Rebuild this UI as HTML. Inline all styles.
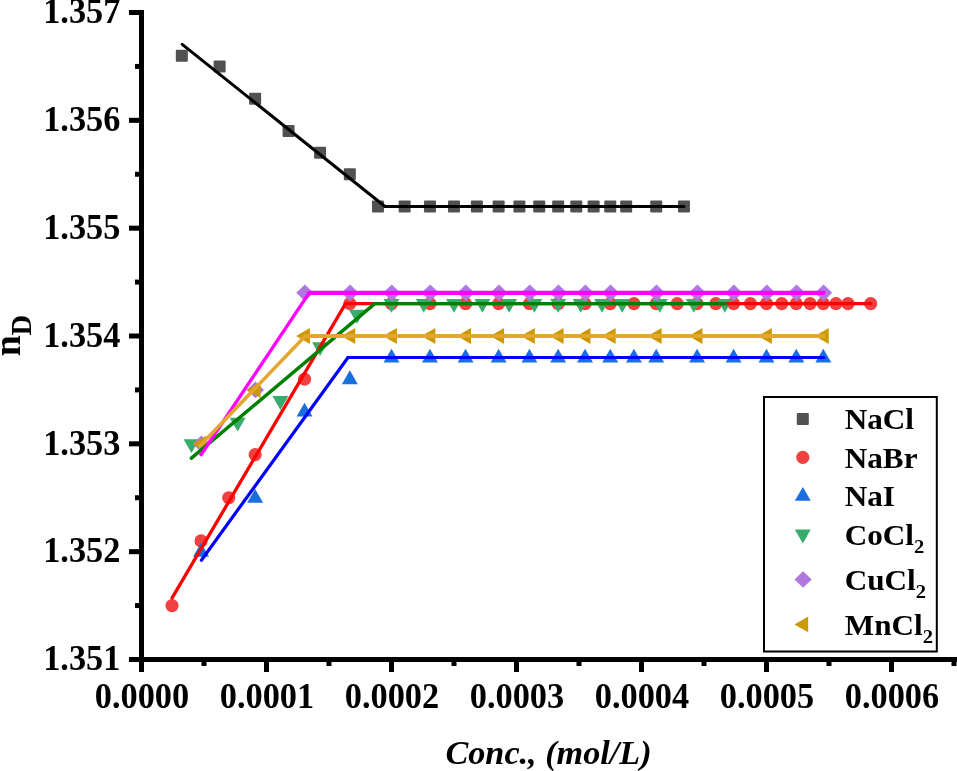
<!DOCTYPE html>
<html lang="en"><head><meta charset="utf-8"><title>nD vs Conc.</title>
<style>html,body{margin:0;padding:0;background:#fff;}body{width:957px;height:771px;overflow:hidden;}svg{display:block;}text{font-family:"Liberation Serif","Times New Roman",Times,serif;font-weight:bold;fill:#000;}</style>
</head><body>
<svg width="957" height="771" viewBox="0 0 957 771">
<rect width="957" height="771" fill="#fff"/>
<g id="markers">
<rect x="175.82" y="49.63" width="12" height="12" rx="1" fill="#515151"/>
<rect x="213.62" y="60.42" width="12" height="12" rx="1" fill="#515151"/>
<rect x="249.14" y="92.77" width="12" height="12" rx="1" fill="#515151"/>
<rect x="282.56" y="125.12" width="12" height="12" rx="1" fill="#515151"/>
<rect x="314.07" y="146.68" width="12" height="12" rx="1" fill="#515151"/>
<rect x="343.83" y="168.25" width="12" height="12" rx="1" fill="#515151"/>
<rect x="371.99" y="200.6" width="12" height="12" rx="1" fill="#515151"/>
<rect x="398.66" y="200.6" width="12" height="12" rx="1" fill="#515151"/>
<rect x="423.96" y="200.6" width="12" height="12" rx="1" fill="#515151"/>
<rect x="448" y="200.6" width="12" height="12" rx="1" fill="#515151"/>
<rect x="470.87" y="200.6" width="12" height="12" rx="1" fill="#515151"/>
<rect x="492.64" y="200.6" width="12" height="12" rx="1" fill="#515151"/>
<rect x="513.41" y="200.6" width="12" height="12" rx="1" fill="#515151"/>
<rect x="533.23" y="200.6" width="12" height="12" rx="1" fill="#515151"/>
<rect x="552.17" y="200.6" width="12" height="12" rx="1" fill="#515151"/>
<rect x="570.28" y="200.6" width="12" height="12" rx="1" fill="#515151"/>
<rect x="587.63" y="200.6" width="12" height="12" rx="1" fill="#515151"/>
<rect x="604.25" y="200.6" width="12" height="12" rx="1" fill="#515151"/>
<rect x="620.19" y="200.6" width="12" height="12" rx="1" fill="#515151"/>
<rect x="650.21" y="200.6" width="12" height="12" rx="1" fill="#515151"/>
<rect x="677.95" y="200.6" width="12" height="12" rx="1" fill="#515151"/>
<circle cx="171.99" cy="605.58" r="6.6" fill="#F14040"/>
<circle cx="201.02" cy="540.88" r="6.6" fill="#F14040"/>
<circle cx="228.71" cy="497.75" r="6.6" fill="#F14040"/>
<circle cx="255.14" cy="454.62" r="6.6" fill="#F14040"/>
<circle cx="304.54" cy="379.13" r="6.6" fill="#F14040"/>
<circle cx="349.83" cy="303.65" r="6.6" fill="#F14040"/>
<circle cx="391.5" cy="303.65" r="6.6" fill="#F14040"/>
<circle cx="429.96" cy="303.65" r="6.6" fill="#F14040"/>
<circle cx="465.57" cy="303.65" r="6.6" fill="#F14040"/>
<circle cx="498.64" cy="303.65" r="6.6" fill="#F14040"/>
<circle cx="529.43" cy="303.65" r="6.6" fill="#F14040"/>
<circle cx="558.17" cy="303.65" r="6.6" fill="#F14040"/>
<circle cx="585.05" cy="303.65" r="6.6" fill="#F14040"/>
<circle cx="610.25" cy="303.65" r="6.6" fill="#F14040"/>
<circle cx="633.92" cy="303.65" r="6.6" fill="#F14040"/>
<circle cx="656.21" cy="303.65" r="6.6" fill="#F14040"/>
<circle cx="677.21" cy="303.65" r="6.6" fill="#F14040"/>
<circle cx="697.06" cy="303.65" r="6.6" fill="#F14040"/>
<circle cx="715.82" cy="303.65" r="6.6" fill="#F14040"/>
<circle cx="733.61" cy="303.65" r="6.6" fill="#F14040"/>
<circle cx="750.47" cy="303.65" r="6.6" fill="#F14040"/>
<circle cx="766.5" cy="303.65" r="6.6" fill="#F14040"/>
<circle cx="781.74" cy="303.65" r="6.6" fill="#F14040"/>
<circle cx="796.26" cy="303.65" r="6.6" fill="#F14040"/>
<circle cx="810.1" cy="303.65" r="6.6" fill="#F14040"/>
<circle cx="823.32" cy="303.65" r="6.6" fill="#F14040"/>
<circle cx="835.94" cy="303.65" r="6.6" fill="#F14040"/>
<circle cx="848.02" cy="303.65" r="6.6" fill="#F14040"/>
<circle cx="870.67" cy="303.65" r="6.6" fill="#F14040"/>
<polygon points="201.02,542.87 208.99,556.67 193.06,556.67" fill="#1A6FDF"/>
<polygon points="255.14,488.95 263.1,502.75 247.17,502.75" fill="#1A6FDF"/>
<polygon points="304.54,402.68 312.51,416.48 296.58,416.48" fill="#1A6FDF"/>
<polygon points="349.83,370.33 357.8,384.13 341.87,384.13" fill="#1A6FDF"/>
<polygon points="391.5,348.77 399.47,362.57 383.53,362.57" fill="#1A6FDF"/>
<polygon points="429.96,348.77 437.93,362.57 421.99,362.57" fill="#1A6FDF"/>
<polygon points="465.57,348.77 473.54,362.57 457.61,362.57" fill="#1A6FDF"/>
<polygon points="498.64,348.77 506.61,362.57 490.68,362.57" fill="#1A6FDF"/>
<polygon points="529.43,348.77 537.4,362.57 521.46,362.57" fill="#1A6FDF"/>
<polygon points="558.17,348.77 566.13,362.57 550.2,362.57" fill="#1A6FDF"/>
<polygon points="585.05,348.77 593.02,362.57 577.08,362.57" fill="#1A6FDF"/>
<polygon points="610.25,348.77 618.22,362.57 602.28,362.57" fill="#1A6FDF"/>
<polygon points="633.92,348.77 641.89,362.57 625.96,362.57" fill="#1A6FDF"/>
<polygon points="656.21,348.77 664.17,362.57 648.24,362.57" fill="#1A6FDF"/>
<polygon points="697.06,348.77 705.02,362.57 689.09,362.57" fill="#1A6FDF"/>
<polygon points="733.61,348.77 741.57,362.57 725.64,362.57" fill="#1A6FDF"/>
<polygon points="766.5,348.77 774.47,362.57 758.53,362.57" fill="#1A6FDF"/>
<polygon points="796.26,348.77 804.23,362.57 788.29,362.57" fill="#1A6FDF"/>
<polygon points="823.32,348.77 831.29,362.57 815.35,362.57" fill="#1A6FDF"/>
<polygon points="191.5,453.03 199.47,439.23 183.53,439.23" fill="#37AD6B"/>
<polygon points="237.65,431.47 245.62,417.67 229.69,417.67" fill="#37AD6B"/>
<polygon points="280.39,409.9 288.36,396.1 272.42,396.1" fill="#37AD6B"/>
<polygon points="320.07,355.98 328.04,342.18 312.1,342.18" fill="#37AD6B"/>
<polygon points="357.02,323.63 364.98,309.83 349.05,309.83" fill="#37AD6B"/>
<polygon points="391.5,312.85 399.47,299.05 383.53,299.05" fill="#37AD6B"/>
<polygon points="423.76,312.85 431.73,299.05 415.79,299.05" fill="#37AD6B"/>
<polygon points="454,312.85 461.97,299.05 446.03,299.05" fill="#37AD6B"/>
<polygon points="482.41,312.85 490.38,299.05 474.44,299.05" fill="#37AD6B"/>
<polygon points="509.15,312.85 517.11,299.05 501.18,299.05" fill="#37AD6B"/>
<polygon points="534.36,312.85 542.32,299.05 526.39,299.05" fill="#37AD6B"/>
<polygon points="558.17,312.85 566.13,299.05 550.2,299.05" fill="#37AD6B"/>
<polygon points="580.69,312.85 588.66,299.05 572.72,299.05" fill="#37AD6B"/>
<polygon points="602.03,312.85 609.99,299.05 594.06,299.05" fill="#37AD6B"/>
<polygon points="622.27,312.85 630.24,299.05 614.3,299.05" fill="#37AD6B"/>
<polygon points="659.79,312.85 667.76,299.05 651.83,299.05" fill="#37AD6B"/>
<polygon points="693.83,312.85 701.79,299.05 685.86,299.05" fill="#37AD6B"/>
<polygon points="724.83,312.85 732.8,299.05 716.87,299.05" fill="#37AD6B"/>
<polygon points="201.32,435.53 209.92,443.83 201.32,452.13 192.72,443.83" fill="#B177DE"/>
<polygon points="255.44,381.62 264.04,389.92 255.44,398.22 246.84,389.92" fill="#B177DE"/>
<polygon points="304.84,284.57 313.44,292.87 304.84,301.17 296.24,292.87" fill="#B177DE"/>
<polygon points="350.13,284.57 358.73,292.87 350.13,301.17 341.53,292.87" fill="#B177DE"/>
<polygon points="391.8,284.57 400.4,292.87 391.8,301.17 383.2,292.87" fill="#B177DE"/>
<polygon points="430.26,284.57 438.86,292.87 430.26,301.17 421.66,292.87" fill="#B177DE"/>
<polygon points="465.87,284.57 474.47,292.87 465.87,301.17 457.27,292.87" fill="#B177DE"/>
<polygon points="498.94,284.57 507.54,292.87 498.94,301.17 490.34,292.87" fill="#B177DE"/>
<polygon points="529.73,284.57 538.33,292.87 529.73,301.17 521.13,292.87" fill="#B177DE"/>
<polygon points="558.47,284.57 567.07,292.87 558.47,301.17 549.87,292.87" fill="#B177DE"/>
<polygon points="585.35,284.57 593.95,292.87 585.35,301.17 576.75,292.87" fill="#B177DE"/>
<polygon points="610.55,284.57 619.15,292.87 610.55,301.17 601.95,292.87" fill="#B177DE"/>
<polygon points="656.51,284.57 665.11,292.87 656.51,301.17 647.91,292.87" fill="#B177DE"/>
<polygon points="697.36,284.57 705.96,292.87 697.36,301.17 688.76,292.87" fill="#B177DE"/>
<polygon points="733.91,284.57 742.51,292.87 733.91,301.17 725.31,292.87" fill="#B177DE"/>
<polygon points="766.8,284.57 775.4,292.87 766.8,301.17 758.2,292.87" fill="#B177DE"/>
<polygon points="796.56,284.57 805.16,292.87 796.56,301.17 787.96,292.87" fill="#B177DE"/>
<polygon points="823.62,284.57 832.22,292.87 823.62,301.17 815.02,292.87" fill="#B177DE"/>
<polygon points="192.62,443.83 206.42,435.87 206.42,451.8" fill="#CC9900"/>
<polygon points="246.74,389.92 260.54,381.95 260.54,397.88" fill="#CC9900"/>
<polygon points="296.14,336 309.94,328.03 309.94,343.97" fill="#CC9900"/>
<polygon points="341.43,336 355.23,328.03 355.23,343.97" fill="#CC9900"/>
<polygon points="383.1,336 396.9,328.03 396.9,343.97" fill="#CC9900"/>
<polygon points="421.56,336 435.36,328.03 435.36,343.97" fill="#CC9900"/>
<polygon points="457.17,336 470.97,328.03 470.97,343.97" fill="#CC9900"/>
<polygon points="490.24,336 504.04,328.03 504.04,343.97" fill="#CC9900"/>
<polygon points="521.03,336 534.83,328.03 534.83,343.97" fill="#CC9900"/>
<polygon points="549.77,336 563.57,328.03 563.57,343.97" fill="#CC9900"/>
<polygon points="576.65,336 590.45,328.03 590.45,343.97" fill="#CC9900"/>
<polygon points="601.85,336 615.65,328.03 615.65,343.97" fill="#CC9900"/>
<polygon points="647.81,336 661.61,328.03 661.61,343.97" fill="#CC9900"/>
<polygon points="688.66,336 702.46,328.03 702.46,343.97" fill="#CC9900"/>
<polygon points="758.1,336 771.9,328.03 771.9,343.97" fill="#CC9900"/>
<polygon points="814.92,336 828.72,328.03 828.72,343.97" fill="#CC9900"/>
</g>
<g id="fits">
<line x1="182.2" y1="44.3" x2="385" y2="206.5" stroke="#000" stroke-width="3" stroke-linecap="round"/>
<line x1="385" y1="206.5" x2="684" y2="206.5" stroke="#000" stroke-width="3" stroke-linecap="round"/>
<line x1="172.1" y1="597.8" x2="345.6" y2="303.6" stroke="#FF0000" stroke-width="3.3" stroke-linecap="round"/>
<line x1="345.6" y1="303.6" x2="871" y2="303.6" stroke="#FF0000" stroke-width="3.3" stroke-linecap="round"/>
<line x1="201.4" y1="560.2" x2="348" y2="357.5" stroke="#0000FF" stroke-width="3.2" stroke-linecap="round"/>
<line x1="348" y1="357.5" x2="824" y2="357.5" stroke="#0000FF" stroke-width="3.2" stroke-linecap="round"/>
<line x1="191.4" y1="458.2" x2="374.8" y2="303.7" stroke="#008000" stroke-width="3.5" stroke-linecap="round"/>
<line x1="374.8" y1="303.7" x2="725.5" y2="303.7" stroke="#008000" stroke-width="3.2" stroke-linecap="round"/>
<line x1="201" y1="454.7" x2="309.2" y2="292.9" stroke="#FF00FF" stroke-width="3.4" stroke-linecap="round"/>
<line x1="309.2" y1="292.9" x2="823.5" y2="292.9" stroke="#FF00FF" stroke-width="4.3" stroke-linecap="round"/>
<line x1="199.8" y1="446" x2="305.3" y2="336" stroke="#E3A72F" stroke-width="3.6" stroke-linecap="round"/>
<line x1="305.3" y1="336" x2="823.5" y2="336" stroke="#E3A72F" stroke-width="3.9" stroke-linecap="round"/>
</g>
<g id="axes" fill="#000">
<rect x="139" y="10" width="5" height="662"/>
<rect x="129" y="657" width="828" height="5"/>
<rect x="129" y="10" width="12" height="5"/>
<rect x="129" y="117.83" width="12" height="5"/>
<rect x="129" y="225.67" width="12" height="5"/>
<rect x="129" y="333.5" width="12" height="5"/>
<rect x="129" y="441.33" width="12" height="5"/>
<rect x="129" y="549.17" width="12" height="5"/>
<rect x="129" y="657" width="12" height="5"/>
<rect x="135" y="63.92" width="6" height="5"/>
<rect x="135" y="171.75" width="6" height="5"/>
<rect x="135" y="279.58" width="6" height="5"/>
<rect x="135" y="387.42" width="6" height="5"/>
<rect x="135" y="495.25" width="6" height="5"/>
<rect x="135" y="603.08" width="6" height="5"/>
<rect x="139" y="660" width="5" height="12"/>
<rect x="264" y="660" width="5" height="12"/>
<rect x="389" y="660" width="5" height="12"/>
<rect x="514" y="660" width="5" height="12"/>
<rect x="639" y="660" width="5" height="12"/>
<rect x="764" y="660" width="5" height="12"/>
<rect x="889" y="660" width="5" height="12"/>
<rect x="201.5" y="660" width="5" height="6"/>
<rect x="326.5" y="660" width="5" height="6"/>
<rect x="451.5" y="660" width="5" height="6"/>
<rect x="576.5" y="660" width="5" height="6"/>
<rect x="701.5" y="660" width="5" height="6"/>
<rect x="826.5" y="660" width="5" height="6"/>
<rect x="951.5" y="660" width="5" height="6"/>
</g>
<g id="ylabels" font-size="34.3" text-anchor="end">
<text transform="translate(120.3,23.3) scale(1,1.03)">1.357</text>
<text transform="translate(120.3,131.13) scale(1,1.03)">1.356</text>
<text transform="translate(120.3,238.97) scale(1,1.03)">1.355</text>
<text transform="translate(120.3,346.8) scale(1,1.03)">1.354</text>
<text transform="translate(120.3,454.63) scale(1,1.03)">1.353</text>
<text transform="translate(120.3,562.47) scale(1,1.03)">1.352</text>
<text transform="translate(120.3,670.3) scale(1,1.03)">1.351</text>
</g>
<g id="xlabels" font-size="34.3" text-anchor="middle">
<text transform="translate(142,707.5) scale(1,1.03)">0.0000</text>
<text transform="translate(267,707.5) scale(1,1.03)">0.0001</text>
<text transform="translate(392,707.5) scale(1,1.03)">0.0002</text>
<text transform="translate(517,707.5) scale(1,1.03)">0.0003</text>
<text transform="translate(642,707.5) scale(1,1.03)">0.0004</text>
<text transform="translate(767,707.5) scale(1,1.03)">0.0005</text>
<text transform="translate(892,707.5) scale(1,1.03)">0.0006</text>
</g>
<text transform="translate(548.5,764.4)" font-size="34.2" font-style="italic" text-anchor="middle">Conc., (mol/L)</text>
<text transform="translate(20,356.2) rotate(-90) scale(0.97,1)" font-size="39">n</text>
<text transform="translate(30.7,335.5) rotate(-90)" font-size="28.5">D</text>
<rect x="764" y="397" width="172.8" height="254.5" fill="#fff" stroke="#000" stroke-width="2"/>
<rect x="796.8" y="412.9" width="12" height="12" rx="1" fill="#515151"/>
<text transform="translate(844.7,429.4) scale(1,0.955)" font-size="31.2">NaCl</text>
<circle cx="802.8" cy="457.3" r="6.6" fill="#F14040"/>
<text transform="translate(844.7,467.8) scale(1,0.955)" font-size="31.2">NaBr</text>
<polygon points="802.8,486.9 810.77,500.7 794.83,500.7" fill="#1A6FDF"/>
<text transform="translate(844.7,506.2) scale(1,0.955)" font-size="31.2">NaI</text>
<polygon points="802.8,543.4 810.77,529.6 794.83,529.6" fill="#37AD6B"/>
<text transform="translate(844.7,544.7) scale(1,0.955)" font-size="31.2">CoCl<tspan dy="8.2" font-size="20.6">2</tspan></text>
<polygon points="803.1,571.2 811.7,579.5 803.1,587.8 794.5,579.5" fill="#B177DE"/>
<text transform="translate(844.7,590) scale(1,0.955)" font-size="31.2">CuCl<tspan dy="8.2" font-size="20.6">2</tspan></text>
<polygon points="794.4,624.4 808.2,616.43 808.2,632.37" fill="#CC9900"/>
<text transform="translate(844.7,634.9) scale(1,0.955)" font-size="31.2">MnCl<tspan dy="8.2" font-size="20.6">2</tspan></text>
</svg></body></html>
